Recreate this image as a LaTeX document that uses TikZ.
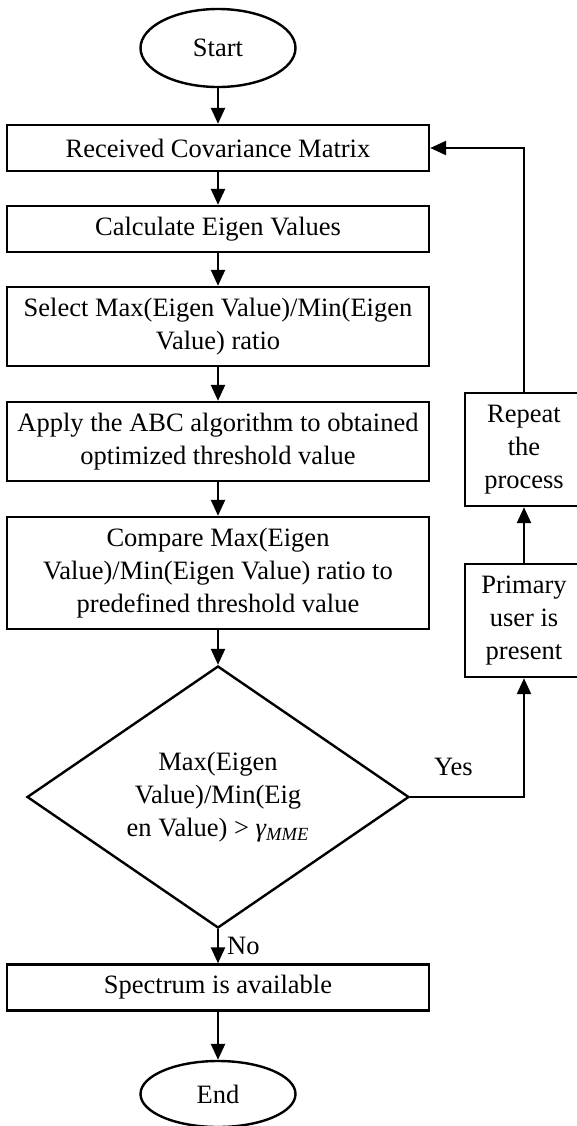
\documentclass[tikz,border=0pt]{standalone}
\usepackage{fontspec}
\setmainfont{Liberation Serif}
\usetikzlibrary{shapes.geometric,arrows.meta}
\begin{document}
\begin{tikzpicture}[x=0.5pt, y=-0.5pt, line width=1.2pt, >={Triangle[length=8pt,width=7pt]}]
    \tikzstyle{every node}=[align=center, inner sep=0pt, font=\fontsize{13.25}{16.6}\selectfont]
    \tikzstyle{proc}=[draw, rectangle, minimum width=211pt]
    \tikzstyle{term}=[draw, ellipse, minimum width=77.5pt]
    \tikzstyle{side}=[draw, rectangle, minimum width=59pt, minimum height=56.5pt]
    \tikzstyle{test}=[draw, diamond, minimum width=191pt, minimum height=131pt, aspect=1.46]
    \useasboundingbox (0,0) rectangle (577,1126);
    \node[term, minimum height=39pt] (start) at (218,48) {Start};
    \node[proc, minimum height=23pt] (recv) at (218,148) {Received Covariance Matrix};
    \node[proc, minimum height=23pt] (calc) at (218,229) {Calculate Eigen Values};
    \node[proc, minimum height=39.5pt] (select) at (218,326.5) {Select Max(Eigen Value)/Min(Eigen\\Value) ratio};
    \node[proc, minimum height=39.5pt] (apply) at (218,441.5) {Apply the ABC algorithm to obtained\\optimized threshold value};
    \node[proc, minimum height=56pt] (compare) at (218,573) {Compare Max(Eigen\\Value)/Min(Eigen Value) ratio to\\predefined threshold value};
    \node[test] (check) at (218,797) {Max(Eigen\\Value)/Min(Eig\\en Value) > \textit{γ\textsubscript{MME}}};
    \node[proc, minimum height=23pt] (spectrum) at (218,987.5) {Spectrum is available};
    \node[term, minimum height=33pt] (end) at (218,1094) {End};
    \node[side] (primary) at (524,620.5) {Primary\\user is\\present};
    \node[side] (repeat) at (524,449.5) {Repeat\\the\\process};
    \draw[->] (start) -- (recv);
    \draw[->] (recv) -- (calc);
    \draw[->] (calc) -- (select);
    \draw[->] (select) -- (apply);
    \draw[->] (apply) -- (compare);
    \draw[->] (compare) -- (check);
    \draw[->] (check) -- node[right=4pt] {No} (spectrum);
    \draw[->] (spectrum) -- (end);
    \draw[->] (check.east) -| node[pos=0.19, above=10pt] {Yes} (primary.south);
    \draw[->] (primary) -- (repeat);
    \draw[->] (repeat.north) |- (recv.east);
\end{tikzpicture}
\end{document}
